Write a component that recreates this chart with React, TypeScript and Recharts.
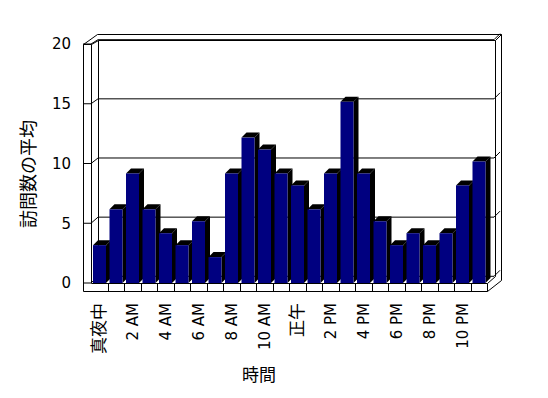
import { BarChart, Bar, XAxis, YAxis, CartesianGrid } from "recharts";

const hours = [
  "真夜中", "1 AM", "2 AM", "3 AM", "4 AM", "5 AM", "6 AM", "7 AM", "8 AM", "9 AM", "10 AM", "11 AM",
  "正午", "1 PM", "2 PM", "3 PM", "4 PM", "5 PM", "6 PM", "7 PM", "8 PM", "9 PM", "10 PM", "11 PM",
];
const visits = [3, 6, 9, 6, 4, 3, 5, 2, 9, 12, 11, 9, 8, 6, 9, 15, 9, 5, 3, 4, 3, 4, 8, 10];
const yTicks = [0, 5, 10, 15, 20];

const data = hours.map((hour, i) => ({ hour, visits: visits[i] }));

const FONT = "'DejaVu Sans', 'Noto Sans CJK JP', sans-serif";
const CJK = "'Noto Sans CJK JP', sans-serif";
const W = 548;
const H = 398;
// front plane of the plot
const LEFT = 91;
const RIGHT = 487;
const TOP = 44;
const BOTTOM = 283;
const DEPTH = 7; // wall depth offset
const BAR_D = 5; // bar depth offset

// back wall position of a front-plane y
const backY = (yf: number) => BOTTOM - DEPTH + 0.3 - (BOTTOM - yf) * 0.99;

function Bar3D(props: any) {
  const { x, y, width, height } = props;
  const top = y - 2;
  const bottom = y + height;
  const r = x + width;
  return (
    <g>
      <polygon
        points={`${x},${top} ${x + BAR_D},${top - BAR_D} ${r + BAR_D},${top - BAR_D} ${r},${top}`}
        fill="#000"
      />
      <polygon
        points={`${r},${top} ${r + BAR_D},${top - BAR_D} ${r + BAR_D},${bottom - BAR_D} ${r},${bottom}`}
        fill="#000"
      />
      <rect x={x} y={top} width={width} height={bottom - top} fill="#000080" />
    </g>
  );
}

function GridLine(props: any) {
  const { x1, x2, y1 } = props;
  const yb = backY(y1);
  return (
    <g key={props.key} stroke="#000" strokeWidth={1} fill="none">
      <line x1={x1 + DEPTH} y1={yb} x2={x2 + DEPTH} y2={yb} />
      <polyline points={`83,${y1} ${x1},${y1} ${x1 + DEPTH},${yb}`} />
      <line x1={x2 + DEPTH} y1={yb} x2={x2 + DEPTH + 6} y2={yb - 6} />
    </g>
  );
}

function YTick(props: any) {
  const { y, payload } = props;
  return (
    <text x={71} y={y} dy="0.35em" textAnchor="end" fontSize={15} fontFamily={FONT} fill="#000">
      {payload.value}
    </text>
  );
}

function XTick(props: any) {
  const { x, payload } = props;
  const cjk = /[^\x00-\x7f]/.test(payload.value);
  return (
    <g transform={`translate(${x},303)`}>
      <text
        transform="rotate(-90)"
        textAnchor="end"
        dy="0.35em"
        fontSize={cjk ? 17 : 15}
        fontFamily={cjk ? CJK : FONT}
        fill="#000"
      >
        {payload.value}
      </text>
    </g>
  );
}

function Frame() {
  const n = hours.length;
  const step = (RIGHT - LEFT) / n;
  return (
    <svg width={W} height={H} style={{ position: "absolute", left: 0, top: 0 }}>
      <g stroke="#000" strokeWidth={1} fill="none" transform="translate(0.5,0.5)">
        <polyline points="83,44 97,34 501,34 501,280" />
        <polyline points="83,44 91,44 98,40 495,40 501,34" />
        <line x1={495} y1={40} x2={495} y2={276} />
        <line x1={83} y1={44} x2={83} y2={291} />
        <line x1={91} y1={44} x2={91} y2={283} />
        <line x1={98} y1={40} x2={98} y2={276} />
        <polyline points="83,291 487,291 501,280" />
        <polyline points="91,283 487,283 495,276" />
        <line x1={487} y1={283} x2={487} y2={291} />
        {Array.from({ length: n - 1 }, (_, k) => {
          const x = Math.round(LEFT + step * (k + 1));
          return <line key={k} x1={x} y1={283} x2={x} y2={291} />;
        })}
      </g>
      <text
        transform="translate(29,174) rotate(-90)"
        textAnchor="middle"
        dy="0.35em"
        fontSize={18}
        fontFamily={CJK}
        fill="#000"
      >
        訪問数の平均
      </text>
      <text x={259} y={375} textAnchor="middle" dy="0.35em" fontSize={17} fontFamily={CJK} fill="#000">
        時間
      </text>
    </svg>
  );
}

export default function App() {
  return (
    <div style={{ position: "absolute", left: 0, top: 0, width: W, height: H, background: "#fff" }}>
      <Frame />
      <div style={{ position: "absolute", left: 0, top: 0 }}>
        <BarChart
          width={W}
          height={H}
          data={data}
          margin={{ top: TOP, right: W - RIGHT, bottom: 40, left: 31 }}
          barSize={13}
        >
          <CartesianGrid vertical={false} horizontal={GridLine as any} />
          <XAxis
            dataKey="hour"
            interval={1}
            height={75}
            axisLine={false}
            tickLine={false}
            tick={<XTick />}
          />
          <YAxis
            width={60}
            domain={[0, 20]}
            ticks={yTicks}
            axisLine={false}
            tickLine={false}
            tick={<YTick />}
          />
          <Bar dataKey="visits" shape={<Bar3D />} isAnimationActive={false} />
        </BarChart>
      </div>
    </div>
  );
}
